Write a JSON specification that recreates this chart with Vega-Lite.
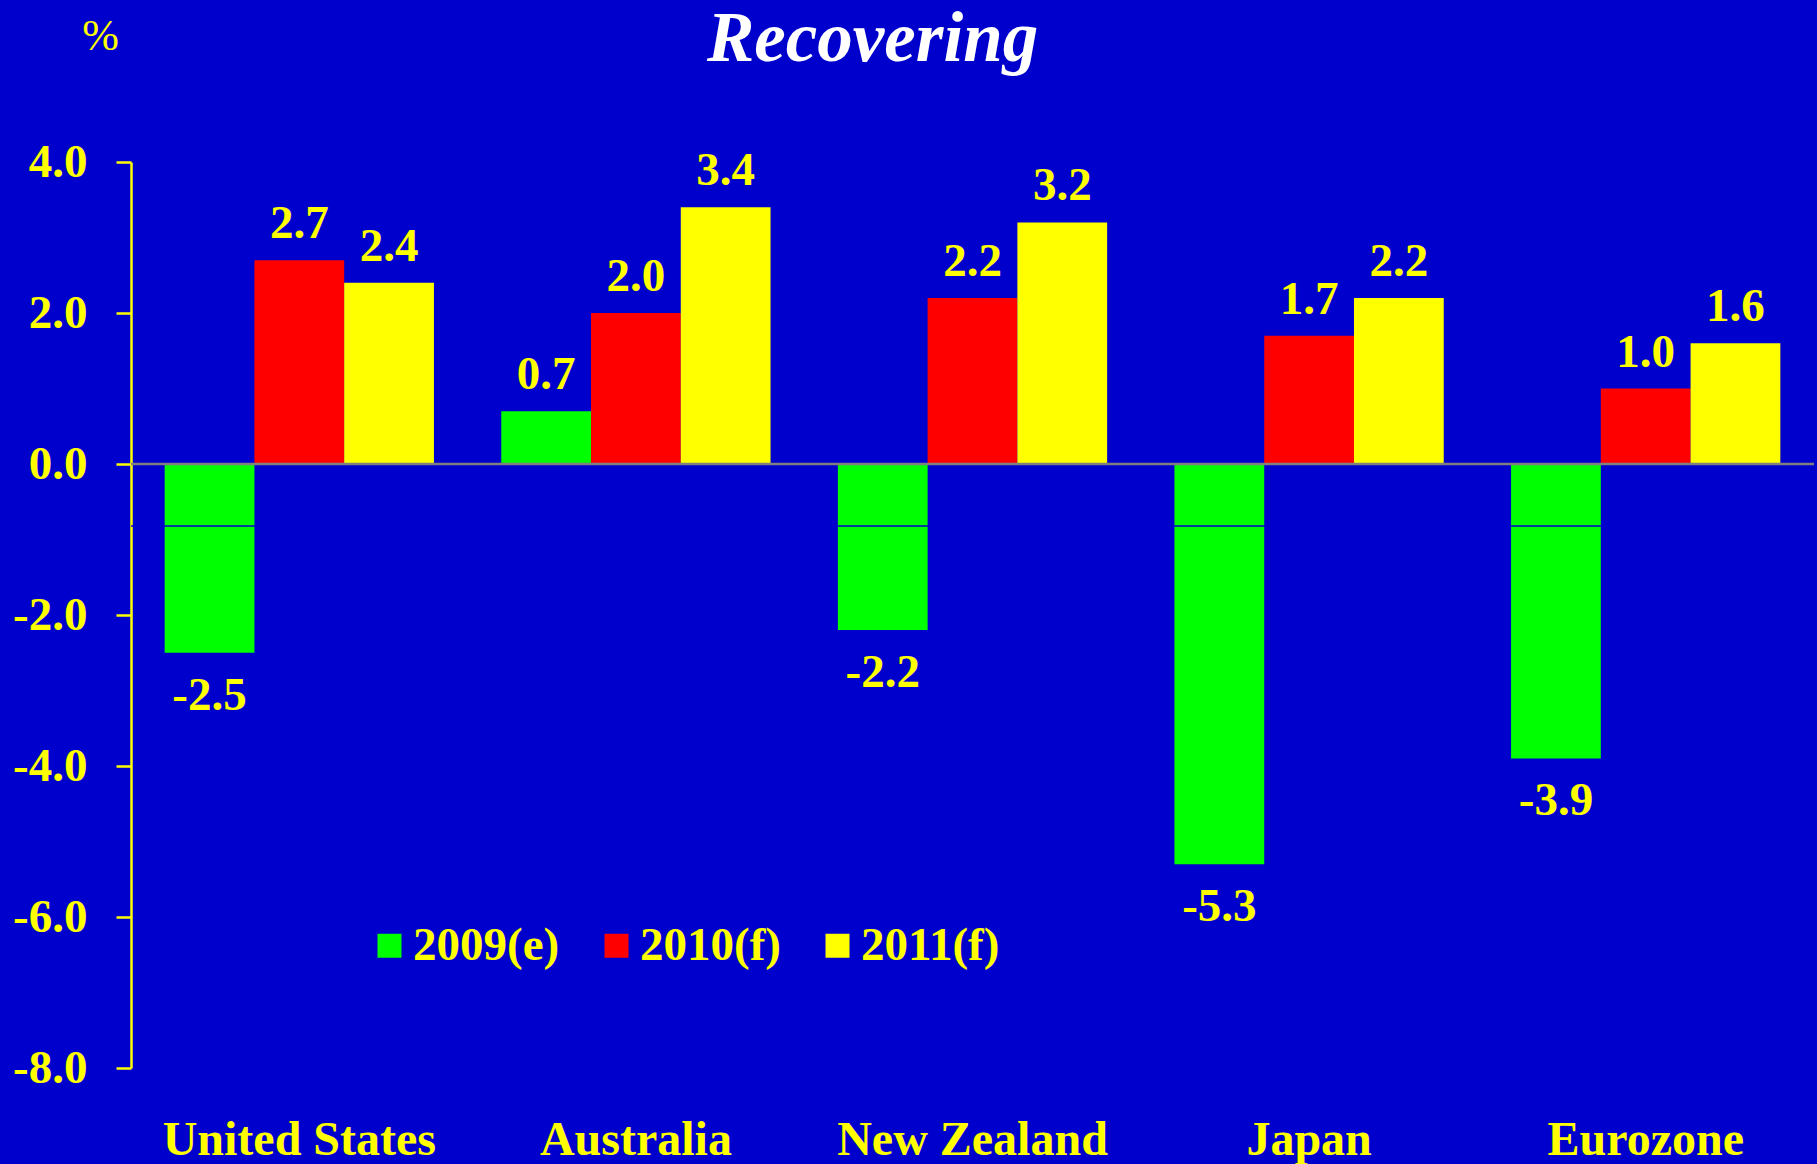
{
  "$schema": "https://vega.github.io/schema/vega-lite/v6.json",
  "autosize": "none",
  "width": 1683,
  "height": 906,
  "padding": {"left": 131, "top": 162, "right": 3, "bottom": 96},
  "background": "#0000CC",
  "title": {
    "text": "Recovering",
    "font": "Liberation Serif",
    "fontStyle": "italic",
    "fontWeight": "bold",
    "fontSize": 71,
    "color": "white",
    "anchor": "middle",
    "frame": "group",
    "dx": -100,
    "dy": 66
  },
  "config": {
    "view": {"stroke": null},
    "font": "Liberation Serif",
    "locale": {"number": {"decimal": ".", "thousands": ",", "grouping": [3], "currency": ["$", ""], "minus": "-"}}
  },
  "datasets": {
    "growth": [
      {"country": "United States", "series": "2009(e)", "value": -2.5},
      {"country": "United States", "series": "2010(f)", "value": 2.7},
      {"country": "United States", "series": "2011(f)", "value": 2.4},
      {"country": "Australia", "series": "2009(e)", "value": 0.7},
      {"country": "Australia", "series": "2010(f)", "value": 2.0},
      {"country": "Australia", "series": "2011(f)", "value": 3.4},
      {"country": "New Zealand", "series": "2009(e)", "value": -2.2},
      {"country": "New Zealand", "series": "2010(f)", "value": 2.2},
      {"country": "New Zealand", "series": "2011(f)", "value": 3.2},
      {"country": "Japan", "series": "2009(e)", "value": -5.3},
      {"country": "Japan", "series": "2010(f)", "value": 1.7},
      {"country": "Japan", "series": "2011(f)", "value": 2.2},
      {"country": "Eurozone", "series": "2009(e)", "value": -3.9},
      {"country": "Eurozone", "series": "2010(f)", "value": 1.0},
      {"country": "Eurozone", "series": "2011(f)", "value": 1.6}
    ]
  },
  "layer": [
    {
      "data": {"name": "growth"},
      "mark": {"type": "bar", "strokeWidth": 0},
      "encoding": {
        "x": {
          "field": "country", "type": "nominal", "sort": null,
          "scale": {"paddingInner": 0.2, "paddingOuter": 0.1},
          "axis": {
            "title": null, "domain": false, "ticks": false, "labelAngle": 0,
            "labelFont": "Liberation Serif", "labelFontWeight": "bold", "labelFontSize": 48,
            "labelColor": "#FFFF00", "labelBaseline": "alphabetic", "labelPadding": 86,
            "labelLimit": 0
          }
        },
        "xOffset": {"field": "series", "type": "nominal", "scale": {"paddingInner": 0, "paddingOuter": 0}},
        "y": {
          "field": "value", "type": "quantitative",
          "scale": {"domain": [-8, 4], "nice": false, "zero": false},
          "axis": {
            "values": [-8, -6, -4, -2, 0, 2, 4],
            "format": ".1f",
            "grid": false,
            "domainColor": "#FFFF00", "domainWidth": 2.5,
            "tickColor": "#FFFF00", "tickWidth": 2.5, "tickSize": 15,
            "labelFont": "Liberation Serif", "labelFontWeight": "bold", "labelFontSize": 47,
            "labelColor": "#FFFF00", "labelPadding": 29,
            "title": "%",
            "titleAngle": 0,
            "titleFont": "Liberation Serif", "titleFontWeight": "normal", "titleFontSize": 44,
            "titleColor": "#FFFF00",
            "titleX": -31, "titleY": -113,
            "titleAlign": "center", "titleBaseline": "alphabetic"
          }
        },
        "color": {
          "field": "series", "type": "nominal",
          "scale": {"domain": ["2009(e)", "2010(f)", "2011(f)"], "range": ["#00FF00", "#FF0000", "#FFFF00"]},
          "legend": {
            "orient": "none", "legendX": 235, "legendY": 760,
            "direction": "horizontal", "title": null, "padding": 0,
            "symbolType": "square", "symbolSize": 576, "symbolStrokeWidth": 0,
            "labelFont": "Liberation Serif", "labelFontWeight": "bold", "labelFontSize": 47,
            "labelColor": "#FFFF00", "labelOffset": 0, "columnPadding": 33
          }
        }
      }
    },
    {
      "data": {"values": [{"v": -0.82}]},
      "mark": {"type": "rule", "color": "#0000CC", "strokeWidth": 1.5},
      "encoding": {"y": {"field": "v", "type": "quantitative"}}
    },
    {
      "data": {"values": [{"v": 0}]},
      "mark": {"type": "rule", "color": "#808080", "strokeWidth": 2.5},
      "encoding": {"y": {"field": "v", "type": "quantitative"}}
    },
    {
      "data": {"name": "growth"},
      "transform": [{"filter": "datum.value >= 0"}],
      "mark": {"type": "text", "font": "Liberation Serif", "fontWeight": "bold", "fontSize": 47, "color": "#FFFF00", "baseline": "alphabetic", "dy": -22},
      "encoding": {
        "x": {"field": "country", "type": "nominal", "sort": null},
        "xOffset": {"field": "series", "type": "nominal"},
        "y": {"field": "value", "type": "quantitative"},
        "text": {"field": "value", "type": "quantitative", "format": ".1f"}
      }
    },
    {
      "data": {"name": "growth"},
      "transform": [{"filter": "datum.value < 0"}],
      "mark": {"type": "text", "font": "Liberation Serif", "fontWeight": "bold", "fontSize": 47, "color": "#FFFF00", "baseline": "alphabetic", "dy": 57},
      "encoding": {
        "x": {"field": "country", "type": "nominal", "sort": null},
        "xOffset": {"field": "series", "type": "nominal"},
        "y": {"field": "value", "type": "quantitative"},
        "text": {"field": "value", "type": "quantitative", "format": ".1f"}
      }
    }
  ]
}
